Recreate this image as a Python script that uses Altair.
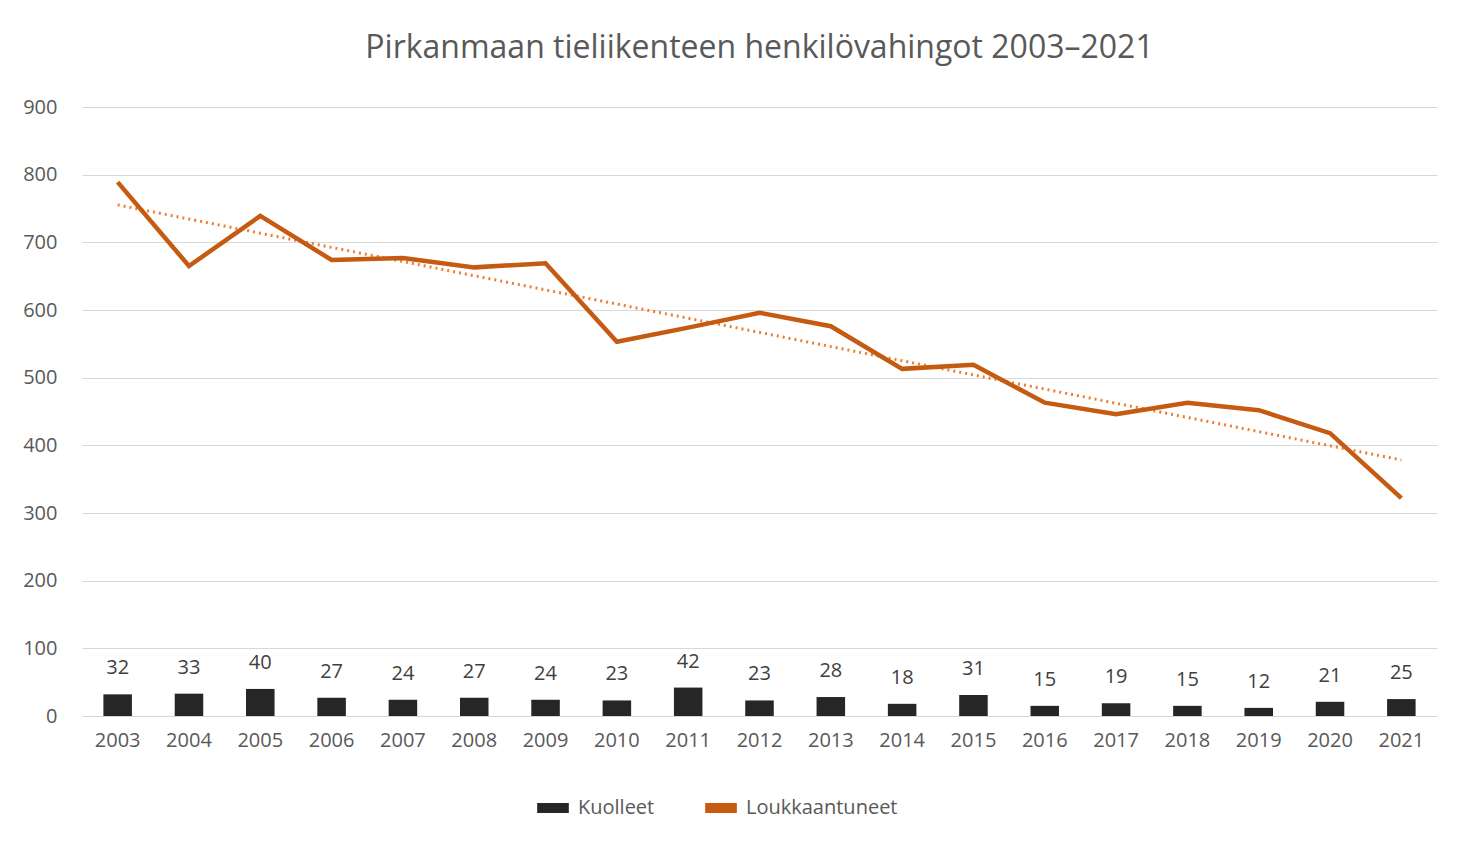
import altair as alt
import pandas as pd

years = list(range(2003, 2022))
kuolleet = [32, 33, 40, 27, 24, 27, 24, 23, 42, 23, 28, 18, 31, 15, 19, 15, 12, 21, 25]
loukkaantuneet = [789, 665, 739, 674, 677, 663, 669, 553, 574, 596, 576, 513, 519,
                  463, 446, 463, 452, 418, 322]

df = pd.DataFrame({"year": years, "kuolleet": kuolleet, "louk": loukkaantuneet})

font = "Open Sans"
x = alt.X("year:O", title=None,
          scale=alt.Scale(paddingInner=0.6, paddingOuter=0.3),
          axis=alt.Axis(labelAngle=0, labelFontSize=20, labelColor="#595959",
                        domainColor="#d9d9d9", ticks=False, grid=False, labelPadding=14))
color = alt.Color("s:N", title=None,
                  scale=alt.Scale(domain=["Kuolleet", "Loukkaantuneet"],
                                  range=["#262626", "#C55A11"]),
                  legend=alt.Legend(orient="none", direction="horizontal",
                                    legendX=450, legendY=680,
                                    symbolType="stroke",
                                    symbolStrokeWidth=10, symbolSize=1000,
                                    labelFontSize=20, labelColor="#595959",
                                    columnPadding=30))

base = alt.Chart(df)
bars = base.mark_bar(color="#262626").transform_calculate(s="'Kuolleet'").encode(
    x=x,
    y=alt.Y("kuolleet:Q", title=None,
            scale=alt.Scale(domain=[0, 900]),
            axis=alt.Axis(values=list(range(0, 901, 100)), labelFontSize=20,
                          labelColor="#595959", gridColor="#d9d9d9", domain=False,
                          ticks=False, labelPadding=25)),
    color=color,
)
labels = base.mark_text(dy=-26, fontSize=20, color="#404040", font=font).encode(
    x=x, y="kuolleet:Q", text="kuolleet:Q")
line = base.mark_line(strokeWidth=4.5).transform_calculate(s="'Loukkaantuneet'").encode(
    x=x, y="louk:Q", color=color)
trend = base.transform_regression("year", "louk", method="linear").mark_line(
    color="#ED7D31", strokeWidth=3, strokeDash=[2, 4]).encode(x=x, y="louk:Q")

chart = alt.layer(bars, labels, trend, line).properties(
    width=1355, height=609,
    title=alt.TitleParams("Pirkanmaan tieliikenteen henkilövahingot 2003–2021",
                          fontSize=32, font=font, fontWeight="normal",
                          color="#595959", offset=32),
    padding={"left": 14, "top": 24, "right": 20, "bottom": 5},
).configure(font=font).configure_view(strokeWidth=0)

chart.save("out.html", embed_options={"renderer": "svg", "actions": False})
